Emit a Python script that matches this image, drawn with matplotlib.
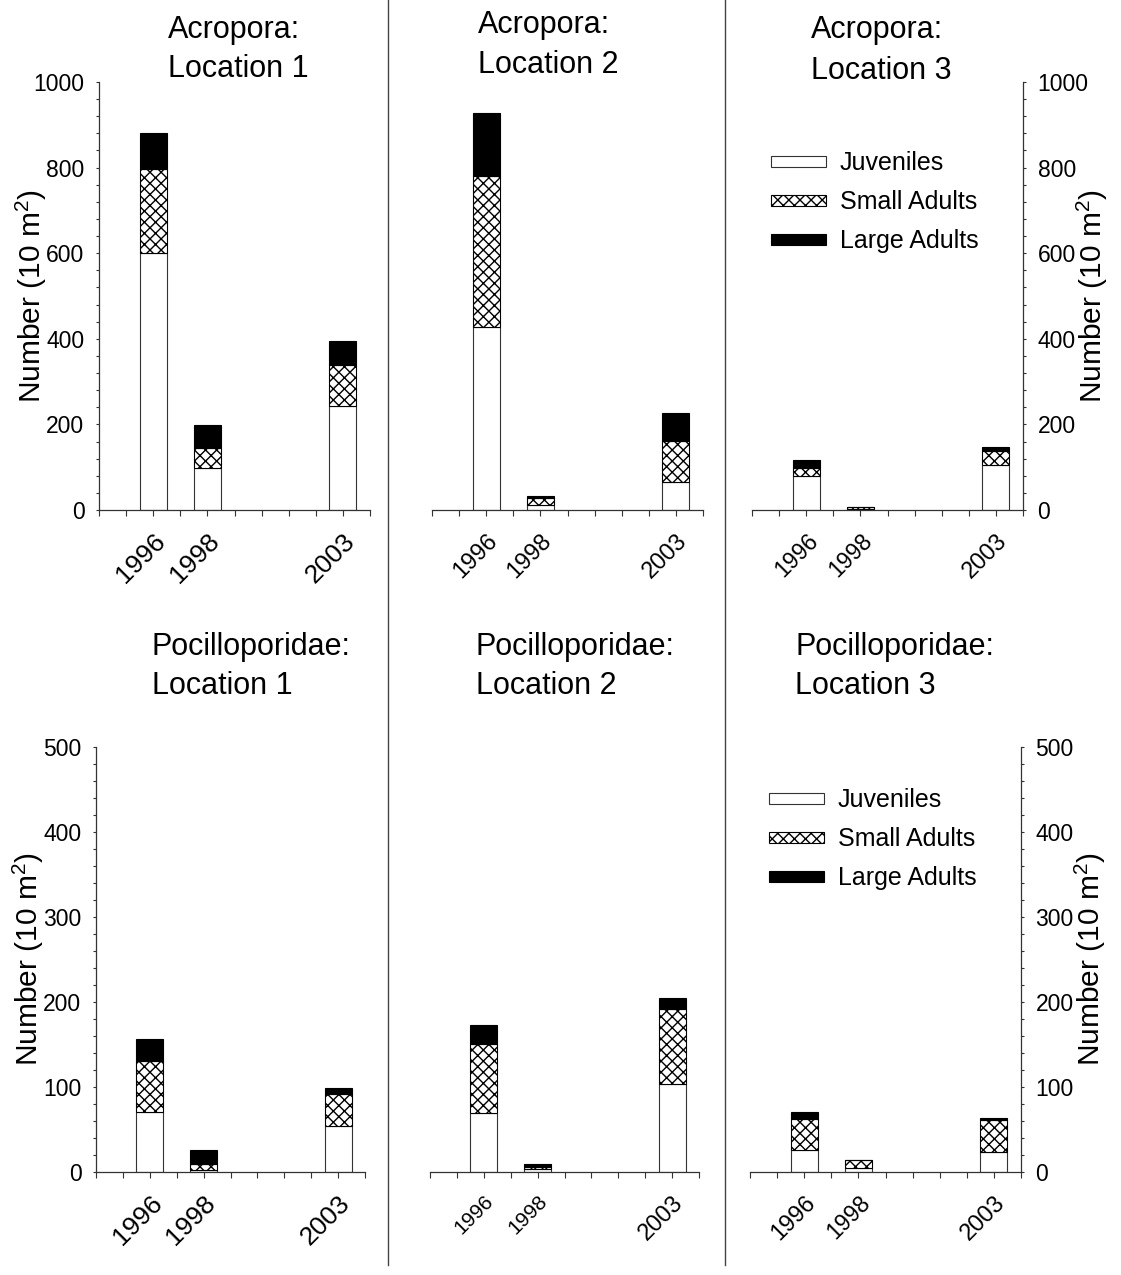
#! usr/bin/env python3
import numpy as np
import matplotlib
matplotlib.use("Agg")
import matplotlib.pyplot as plt
from matplotlib import font_manager
from matplotlib.ticker import MultipleLocator
from matplotlib.lines import Line2D

# use a narrow sans face when one is installed, Liberation Sans otherwise
installed = {f.name for f in font_manager.fontManager.ttflist}
narrow = [f for f in ["Liberation Sans Narrow", "Arial Narrow"] if f in installed]
plt.rcParams["font.family"] = narrow + ["Liberation Sans", "DejaVu Sans"]
plt.rcParams["mathtext.fontset"] = "custom"
plt.rcParams["mathtext.rm"] = "Liberation Sans"
plt.rcParams["hatch.linewidth"] = 1.0

# survey years shown on the x axis
years = [1996, 1998, 2003]
year_labels = ["1996", "1998", "2003"]
sizes = ["Juveniles", "Small Adults", "Large Adults"]
locations = ["Location 1", "Location 2", "Location 3"]

# Acropora, colonies per 10 m2 (juveniles, small adults, large adults)
acro_juv = [[600, 98, 242], [427, 12, 65], [80, 2, 106]]
acro_small = [[197, 48, 97], [353, 17, 96], [17, 5, 33]]
acro_large = [[83, 52, 56], [148, 4, 65], [19, 1, 8]]

# Pocilloporidae, colonies per 10 m2
poci_juv = [[71, 2, 54], [70, 3, 103], [26, 5, 23]]
poci_small = [[60, 8, 38], [81, 3, 89], [36, 9, 38]]
poci_large = [[26, 16, 7], [22, 4, 13], [9, 0, 2]]

fig = plt.figure(figsize=(11.21, 12.75), dpi=100)
W, H = 1121.0, 1275.0

def axes_px(x0, x1, ytop, ybot):
    return fig.add_axes([x0 / W, 1 - ybot / H, (x1 - x0) / W, (ybot - ytop) / H])

top_axes = [axes_px(99, 370, 82, 510), axes_px(432, 703, 82, 510),
            axes_px(752, 1023, 82, 510)]
bot_axes = [axes_px(96, 365, 747, 1172), axes_px(430, 699, 747, 1172),
            axes_px(750, 1021, 747, 1172)]

edge = "#333333"
ylab = "Number (10 m$^{2}$)"

# x tick label sizes per panel
top_xfs = [[19, 19, 19], [17, 17, 17], [16.5, 16.5, 17]]
bot_xfs = [[19, 19, 19], [15, 15, 17], [17, 16.5, 17]]

def draw_panel(ax, juv, small, large, ymax, ymajor, yminor, side, xfs):
    juv = np.array(juv)
    small = np.array(small)
    large = np.array(large)
    b1 = ax.bar(years, juv, width=1.0, color="white", edgecolor=edge, linewidth=0.8)
    b2 = ax.bar(years, small, width=1.0, bottom=juv, color="white",
                edgecolor="black", linewidth=0.8, hatch="xxx")
    b3 = ax.bar(years, large, width=1.0, bottom=juv + small, color="black",
                edgecolor="black", linewidth=0.8)
    ax.set_xlim(1994, 2004)
    ax.set_ylim(0, ymax)
    ax.set_xticks(range(1994, 2005))
    ax.set_xticklabels(["" if y not in years else str(y) for y in range(1994, 2005)])
    for lab in ax.get_xticklabels():
        t = lab.get_text()
        if t:
            lab.set_fontsize(xfs[year_labels.index(t)])
        lab.set_rotation(45)
        lab.set_ha("right")
        lab.set_va("top")
        lab.set_rotation_mode("anchor")
    ax.tick_params(axis="x", direction="out", length=4, width=0.8, color=edge, pad=10)
    for s in ["top", "left", "right"]:
        ax.spines[s].set_visible(False)
    ax.spines["bottom"].set_color(edge)
    ax.spines["bottom"].set_linewidth(0.9)
    if side is None:
        ax.set_yticks([])
    else:
        ax.yaxis.set_major_locator(MultipleLocator(ymajor))
        ax.yaxis.set_minor_locator(MultipleLocator(yminor))
        ax.tick_params(axis="y", which="both", direction="out", length=2.5,
                       width=0.8, color=edge, labelsize=16.5, pad=8)
        ax.spines[side].set_visible(True)
        ax.spines[side].set_color(edge)
        ax.spines[side].set_linewidth(0.9)
        ax.set_ylabel(ylab, fontsize=21.5, family="Liberation Sans")
        if side == "right":
            ax.yaxis.tick_right()
            ax.yaxis.set_label_position("right")
            ax.yaxis.set_label_coords(1.19, 0.5)
        else:
            ax.yaxis.set_label_coords(-0.185, 0.5)
    return b1, b2, b3

legend_kw = dict(loc="upper left", frameon=False, fontsize=18, handlelength=2.2,
                 handleheight=0.32, handletextpad=0.55, labelspacing=0.6,
                 borderpad=0, borderaxespad=0)

sides = ["left", None, "right"]
for i in range(3):
    bars = draw_panel(top_axes[i], acro_juv[i], acro_small[i], acro_large[i],
                      1000, 200, 40, sides[i], top_xfs[i])
    if i == 2:
        top_axes[i].legend(bars, sizes, bbox_to_anchor=(0.07, 0.838), **legend_kw)
for i in range(3):
    bars = draw_panel(bot_axes[i], poci_juv[i], poci_small[i], poci_large[i],
                      500, 100, 20, sides[i], bot_xfs[i])
    if i == 2:
        bot_axes[i].legend(bars, sizes, bbox_to_anchor=(0.07, 0.903), **legend_kw)

# panel titles, two lines each, placed by baseline
title_x_top = [168, 478, 811]
title_x_bot = [152, 476, 795]
base_top = [(38, 77), (33, 73), (38, 79)]
base_bot = [(655, 694), (655, 694), (655, 694)]
for i in range(3):
    fig.text(title_x_top[i] / W, 1 - base_top[i][0] / H, "Acropora:",
             ha="left", va="baseline", fontsize=22)
    fig.text(title_x_top[i] / W, 1 - base_top[i][1] / H, locations[i],
             ha="left", va="baseline", fontsize=22)
    fig.text(title_x_bot[i] / W, 1 - base_bot[i][0] / H, "Pocilloporidae:",
             ha="left", va="baseline", fontsize=22)
    fig.text(title_x_bot[i] / W, 1 - base_bot[i][1] / H, locations[i],
             ha="left", va="baseline", fontsize=22)

# column separators
for xs in [388, 725]:
    fig.add_artist(Line2D([xs / W, xs / W], [1 - 1265 / H, 1.0], color="#444444",
                          linewidth=1.0))

fig.savefig("out.png", dpi=100)
